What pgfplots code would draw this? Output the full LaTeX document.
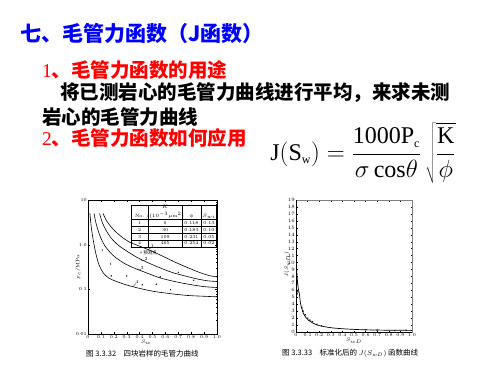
\documentclass[border=0pt]{standalone}
\usepackage{pgfplots}
\pgfplotsset{compat=1.18}
\usepackage{fontspec}
\usepackage{array}
\newfontfamily\cjk{Noto Sans CJK SC}
\newfontfamily\tnr{Liberation Serif}
\definecolor{tblue}{RGB}{0,0,255}
\definecolor{tred}{RGB}{255,0,0}
\begin{document}
\begin{tikzpicture}
\fill[white] (0pt,0pt) rectangle (500pt,-375pt);
\path[use as bounding box] (0pt,0pt) rectangle (500pt,-375pt);
% text
\node[anchor=west, inner sep=0pt, text=tblue, font=\cjk\bfseries\fontsize{21}{24}\selectfont] at (20pt,-33pt) {七、毛管力函数（J函数）};
\node[anchor=west, inner sep=0pt, text=tred, font=\cjk\bfseries\fontsize{19.5}{22}\selectfont] at (42pt,-70pt) {{\tnr\mdseries 1}、毛管力函数的用途};
\node[anchor=west, inner sep=0pt, text=black, font=\cjk\bfseries\fontsize{19.5}{22}\selectfont] at (60pt,-93pt) {将已测岩心的毛管力曲线进行平均，来求未测};
\node[anchor=west, inner sep=0pt, text=black, font=\cjk\bfseries\fontsize{19.5}{22}\selectfont] at (42pt,-117pt) {岩心的毛管力曲线};
\node[anchor=west, inner sep=0pt, text=tred, font=\cjk\bfseries\fontsize{19.5}{22}\selectfont] at (42pt,-138pt) {{\tnr\mdseries 2}、毛管力函数如何应用};
% formula
\node[anchor=center, inner sep=0pt] at (363pt,-153pt) {\fontsize{24}{28}\selectfont $\displaystyle \mbox{\tnr J}{\left(\mbox{\tnr S}_{\mbox{\tnr\fontsize{12}{13}\selectfont w}}\right)}=\frac{\mbox{\tnr 1000P}_{\mbox{\tnr\fontsize{12}{13}\selectfont c}}}{\sigma\,\mbox{\tnr cos}\theta}\,\sqrt{\frac{\mbox{\tnr K}}{\phi}}$};
% chart 1
\begin{axis}[at={(88pt,-334pt)}, anchor=south west, scale only axis, width=129pt, height=134pt,
 ymode=log, xmin=0, xmax=1, ymin=0.01, ymax=10,
 xtick={0,0.1,0.2,0.3,0.4,0.5,0.6,0.7,0.8,0.9,1.0},
 xticklabels={0,0.1,0.2,0.3,0.4,0.5,0.6,0.7,0.8,0.9,1.0},
 ytick={0.01,0.1,1,10}, yticklabels={0.01,0.1,1.0,10},
 tick label style={font=\fontsize{4.5}{5}\selectfont},
 major tick length=2pt, minor tick length=1pt,
 axis line style={line width=0.5pt},
 every tick/.style={black, line width=0.3pt},
 xticklabel style={inner sep=1pt}, yticklabel style={inner sep=1pt}]
\addplot[black, line width=0.6pt, smooth, tension=0.5] coordinates {(0.117,5) (0.14,3.6) (0.17,2.7) (0.21,2.0) (0.26,1.5) (0.32,1.15) (0.39,0.95) (0.48,0.75) (0.58,0.55) (0.68,0.40) (0.78,0.30) (0.88,0.23) (0.95,0.20) (1.0,0.19)};
\addplot[black, line width=0.6pt, smooth, tension=0.5] coordinates {(0.09,5) (0.11,3.2) (0.14,2.1) (0.18,1.4) (0.23,1.0) (0.30,0.72) (0.38,0.52) (0.46,0.40) (0.55,0.31) (0.65,0.24) (0.75,0.2) (0.85,0.17) (0.93,0.155) (1.0,0.15)};
\addplot[black, line width=0.6pt, smooth, tension=0.5] coordinates {(0.047,5) (0.06,3.2) (0.08,2.0) (0.10,1.4) (0.13,0.95) (0.17,0.68) (0.22,0.5) (0.29,0.37) (0.37,0.29) (0.46,0.23) (0.56,0.18) (0.67,0.15) (0.78,0.13) (0.9,0.115) (1.0,0.11)};
\addplot[black, line width=0.6pt, smooth, tension=0.5] coordinates {(0.015,5.0) (0.025,2.5) (0.04,1.3) (0.06,0.65) (0.086,0.35) (0.12,0.23) (0.16,0.18) (0.22,0.15) (0.30,0.125) (0.40,0.105) (0.51,0.09) (0.64,0.08) (0.77,0.073) (0.9,0.07) (1.0,0.068)};
\addplot[only marks, mark=*, mark size=0.4pt, black] coordinates {(0.11,0.76) (0.174,0.37) (0.18,0.2) (0.42,0.126) (0.53,0.13) (0.64,0.098) (0.56,0.19) (0.82,0.16) (0.30,0.2) (0.70,0.24)};
\node[anchor=north east, inner sep=0pt, font=\fontsize{4.5}{6.5}\selectfont] at (rel axis cs:1,0.963) {%
\setlength{\tabcolsep}{1pt}\renewcommand{\arraystretch}{1}%
\begin{tabular}{|wc{15pt}|wc{31pt}|wc{17pt}|wc{13pt}|}\hline
No. & \shortstack{$K$\\$/(10^{-3}\mu\mathrm{m}^2)$} & $\phi$ & $S_{wi}$\\\hline
1 & 6 & 0.118 & 0.13\\\hline
2 & 30 & 0.183 & 0.10\\\hline
3 & 109 & 0.231 & 0.05\\\hline
4 & 465 & 0.254 & 0.02\\\hline
\end{tabular}};
\node[anchor=west, inner sep=0pt, font=\cjk\fontsize{4.5}{5}\selectfont] at (axis cs:0.40,0.65) {+ 预测点};
\node[font=\fontsize{4.5}{5}\selectfont, inner sep=0pt] at (axis cs:0.50,0.92) {1};
\draw[line width=0.3pt] (axis cs:0.49,0.86) -- (axis cs:0.46,0.76);
\node[font=\fontsize{4.5}{5}\selectfont, inner sep=0pt] at (axis cs:0.45,0.47) {2};
\draw[line width=0.3pt] (axis cs:0.44,0.44) -- (axis cs:0.41,0.45);
\node[font=\fontsize{4.5}{5}\selectfont, inner sep=0pt] at (axis cs:0.42,0.30) {3};
\draw[line width=0.3pt] (axis cs:0.41,0.28) -- (axis cs:0.38,0.285);
\node[font=\fontsize{4.5}{5}\selectfont, inner sep=0pt] at (axis cs:0.38,0.145) {4};
\draw[line width=0.3pt] (axis cs:0.37,0.135) -- (axis cs:0.35,0.115);
\end{axis}
\node[font=\fontsize{5}{6}\selectfont, inner sep=0pt] at (146pt,-342pt) {$S_{w}$};
\node[font=\fontsize{5}{6}\selectfont, inner sep=0pt, rotate=90] at (78pt,-267pt) {$p_c$/MPa};
\node[anchor=west, inner sep=0pt, font=\cjk\fontsize{7.5}{8}\selectfont] at (86pt,-354pt) {图 3.3.32\quad 四块岩样的毛管力曲线};
% chart 2
\begin{axis}[at={(296pt,-332pt)}, anchor=south west, scale only axis, width=116pt, height=132pt,
 xmin=0, xmax=1, ymin=0, ymax=19,
 xtick={0,0.1,0.2,0.3,0.4,0.5,0.6,0.7,0.8,0.9,1.0},
 xticklabels={0,0.1,0.2,0.3,0.4,0.5,0.6,0.7,0.8,0.9,1.0},
 ytick={0,1,...,19},
 tick label style={font=\fontsize{4.5}{5}\selectfont},
 major tick length=1.5pt,
 axis line style={line width=0.5pt, draw=gray},
 every tick/.style={black, line width=0.3pt},
 xticklabel style={inner sep=1pt}, yticklabel style={inner sep=1pt}]
\draw[black, line width=0.5pt] (rel axis cs:0,1) -- (rel axis cs:0,0) -- (rel axis cs:1,0);
\addplot[black, line width=0.7pt, smooth, tension=0.4] coordinates {(0.002,11) (0.006,9) (0.012,7.4) (0.02,6.2) (0.029,5.5) (0.04,4) (0.063,2.7) (0.085,2.1) (0.107,1.7) (0.15,1.25) (0.19,0.97) (0.25,0.75) (0.32,0.58) (0.42,0.45) (0.55,0.34) (0.7,0.28) (0.85,0.25) (1.0,0.23)};
\addplot[only marks, mark=x, mark size=1pt, black, line width=0.3pt] coordinates {(0.005,6) (0.01,5.5) (0.015,5.8) (0.05,3.5) (0.06,3.0) (0.08,2.5) (0.1,2.0) (0.12,1.7) (0.14,1.5) (0.18,1.1) (0.22,0.9) (0.6,0.3) (0.7,0.25) (0.85,0.2) (0.95,0.25)};
\end{axis}
\node[font=\fontsize{5}{6}\selectfont, inner sep=0pt, anchor=north] at (354pt,-338pt) {$S_{wD}$};
\node[font=\fontsize{5}{6}\selectfont, inner sep=0pt, rotate=90] at (287pt,-265pt) {$J(S_{wD})$};
\node[anchor=west, inner sep=0pt, font=\cjk\fontsize{7.5}{8}\selectfont] at (282pt,-353pt) {图 3.3.33\quad 标准化后的 $J(S_{wD})$ 函数曲线};
\end{tikzpicture}
\end{document}
